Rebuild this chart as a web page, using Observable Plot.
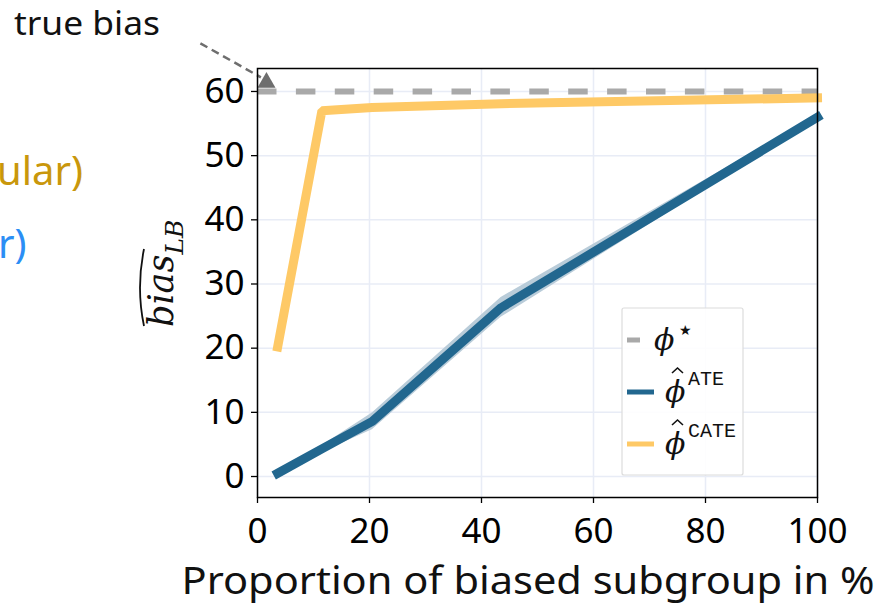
<!DOCTYPE html>
<html>
<head>
<meta charset="utf-8">
<script src="https://cdn.jsdelivr.net/npm/d3@7"></script>
<script src="https://cdn.jsdelivr.net/npm/@observablehq/plot@0.6"></script>
<style>
  html, body { margin: 0; padding: 0; background: #ffffff; }
  #wrap { position: relative; width: 888px; height: 605px; overflow: hidden; }
  #overlay { position: absolute; left: 0; top: 0; pointer-events: none; }
  .mono { font-family: "Liberation Mono", "DejaVu Sans Mono", monospace; }
</style>
</head>
<body>
<div id="wrap"></div>
<script>
// ---- data ----
const proportion = [3.6, 11.5, 20.5, 43.5, 100];
const ateValues  = [0.5, 4.3, 8.6, 26.3, 56.0];
const ateLow     = [0.3, 3.8, 7.3, 24.8, 55.7];
const ateHigh    = [0.7, 4.8, 9.9, 27.9, 56.3];
const cateValues = [20.2, 57.0, 57.5, 58.1, 59.0];
const trueBias = 60;
const trueBiasX = 1.6;
const xTicks = [0, 20, 40, 60, 80, 100];
const yTicks = [0, 10, 20, 30, 40, 50, 60];
// annotation pointer (data units), from the label to the marker
const pointerX = [-10.2, 0.6];
const pointerY = [67.5, 62.2];

const rows = proportion.map((x, i) => ({x, ate: ateValues[i], lo: ateLow[i], hi: ateHigh[i], cate: cateValues[i]}));

const chart = Plot.plot({
  width: 888,
  height: 605,
  marginLeft: 257,
  marginRight: 71,
  marginTop: 68,
  marginBottom: 108,
  x: {domain: [0, 100]},
  y: {domain: [-3.27, 63.58]},
  style: {fontFamily: "'Noto Sans', sans-serif", background: "transparent", color: "black", overflow: "visible"},
  marks: [
    Plot.gridX(xTicks, {stroke: "#e8ecf6", strokeOpacity: 1, strokeWidth: 1.5}),
    Plot.gridY(yTicks, {stroke: "#e8ecf6", strokeOpacity: 1, strokeWidth: 1.5}),
    Plot.ruleY([trueBias], {stroke: "#a9a9a9", strokeWidth: 6, strokeDasharray: "19.5,19.4"}),
    Plot.areaY(rows, {x: "x", y1: "lo", y2: "hi", fill: "#b9ccd9"}),
    Plot.line(rows, {x: "x", y: "ate", stroke: "#22678f", strokeWidth: 9, strokeLinecap: "square", strokeLinejoin: "miter"}),
    Plot.line(rows, {x: "x", y: "cate", stroke: "#fec966", strokeWidth: 9, strokeLinecap: "square", strokeLinejoin: "miter"}),
    Plot.link([0], {x1: () => pointerX[0], y1: () => pointerY[0], x2: () => pointerX[1], y2: () => pointerY[1], stroke: "#6e6e6e", strokeWidth: 2.5, strokeDasharray: "8,5", clip: false}),
    Plot.dot([trueBias], {x: () => trueBiasX, y: d => d, symbol: "triangle", r: 6.7, fill: "#6e6e6e", stroke: "none", dy: -9}),
    Plot.frame({stroke: "black", strokeWidth: 1.5}),
    Plot.axisX(xTicks, {tickSize: 6, tickPadding: 15, fontSize: 35, label: null, strokeWidth: 1.3}),
    Plot.axisY(yTicks, {tickSize: 6, tickPadding: 7, fontSize: 35, label: null, strokeWidth: 1.3})
  ]
});
document.getElementById("wrap").appendChild(chart);

// ---- overlay text: annotations, axis labels, legend ----
const ov = d3.create("svg").attr("id", "overlay").attr("width", 888).attr("height", 605);

const sans = "'Noto Sans', sans-serif";
ov.append("text").attr("x", 14).attr("y", 35).attr("font-family", sans).attr("font-size", 33).attr("fill", "#111")
  .attr("textLength", 146).attr("lengthAdjust", "spacingAndGlyphs").text("true bias");
ov.append("text").attr("x", -3).attr("y", 185).attr("font-family", sans).attr("font-size", 40).attr("fill", "#c9970c").text("ular)");
ov.append("text").attr("x", -2).attr("y", 258).attr("font-family", sans).attr("font-size", 40).attr("fill", "#2b8ef5").text("r)");

// x label
ov.append("text").attr("x", 528).attr("y", 594).attr("text-anchor", "middle").attr("font-family", sans).attr("font-size", 39).attr("fill", "#111")
  .attr("textLength", 693).attr("lengthAdjust", "spacingAndGlyphs").text("Proportion of biased subgroup in %");

// y label (rotated, math style)
const yl = ov.append("g").attr("transform", "translate(173,327) rotate(-90)");
const yt = yl.append("text").attr("font-family", "'DejaVu Serif', serif").attr("font-style", "italic").attr("font-size", 35).attr("fill", "#111");
yt.append("tspan").text("bias");
yt.append("tspan").attr("font-size", 25).attr("dy", 10).text("LB");
yl.append("path").attr("d", "M1,-29 Q39,-37 78,-29").attr("fill", "none").attr("stroke", "#111").attr("stroke-width", 1.8);

// legend
const lg = ov.append("g");
lg.append("rect").attr("x", 622).attr("y", 308).attr("width", 121).attr("height", 167).attr("rx", 2).attr("fill", "white").attr("fill-opacity", 0.9).attr("stroke", "#dcdcdc").attr("stroke-width", 1.2);
const entries = [
  {color: "#a9a9a9", len: 13, y: 340},
  {color: "#22678f", len: 27, y: 392},
  {color: "#fec966", len: 27, y: 444}
];
entries.forEach(e => lg.append("line").attr("x1", 627).attr("x2", 627 + e.len).attr("y1", e.y).attr("y2", e.y).attr("stroke", e.color).attr("stroke-width", 5));
const serif = "'DejaVu Serif', serif";
lg.append("text").attr("x", 654).attr("y", 350).attr("font-family", serif).attr("font-style", "italic").attr("font-size", 30).attr("fill", "#111").text("ϕ");
lg.append("text").attr("x", 679).attr("y", 335).attr("font-family", "'DejaVu Sans', sans-serif").attr("font-size", 14).attr("fill", "#111").text("★");
[[402, 385, 368], [454, 437, 420]].forEach(([by, sy, hy], i) => {
  lg.append("text").attr("x", 665).attr("y", by).attr("font-family", serif).attr("font-style", "italic").attr("font-size", 30).attr("fill", "#111").text("ϕ");
  lg.append("path").attr("d", `M672,${hy + 5} L677.5,${hy} L683,${hy + 5}`).attr("fill", "none").attr("stroke", "#111").attr("stroke-width", 1.6);
  lg.append("text").attr("class", "mono").attr("x", 688).attr("y", sy).attr("font-size", 20).attr("fill", "#111").text(i === 0 ? "ATE" : "CATE");
});

document.getElementById("wrap").appendChild(ov.node());
</script>
</body>
</html>
